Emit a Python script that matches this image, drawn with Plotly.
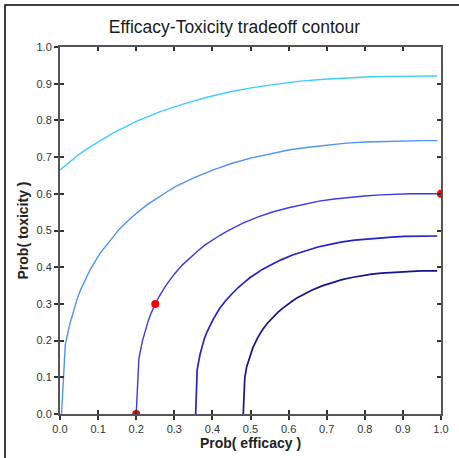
import plotly.graph_objects as go

# Contour curves (Prob efficacy -> Prob toxicity)
c1_x = [0.0, 0.018, 0.048, 0.079, 0.110, 0.140, 0.202, 0.263, 0.325, 0.386, 0.447, 0.509,
        0.570, 0.632, 0.693, 0.754, 0.816, 0.877, 0.939, 0.99]
c1_y = [0.665, 0.681, 0.706, 0.728, 0.748, 0.766, 0.798, 0.824, 0.845, 0.863, 0.878, 0.890,
        0.899, 0.907, 0.912, 0.916, 0.919, 0.920, 0.921, 0.921]

c2_x = [0.004, 0.014, 0.026, 0.036, 0.046, 0.056, 0.081, 0.106, 0.131, 0.155, 0.180, 0.205,
        0.230, 0.255, 0.280, 0.304, 0.354, 0.404, 0.454, 0.503, 0.553, 0.603, 0.652, 0.702,
        0.752, 0.801, 0.851, 0.901, 0.950, 0.99]
c2_y = [0.0, 0.190, 0.246, 0.285, 0.317, 0.343, 0.397, 0.439, 0.473, 0.503, 0.528, 0.551,
        0.571, 0.589, 0.605, 0.620, 0.645, 0.666, 0.684, 0.698, 0.710, 0.720, 0.727, 0.733,
        0.738, 0.741, 0.743, 0.744, 0.745, 0.745]

c3_x = [0.200, 0.207, 0.216, 0.224, 0.232, 0.240, 0.260, 0.280, 0.300, 0.320, 0.340, 0.360,
        0.380, 0.400, 0.420, 0.440, 0.480, 0.520, 0.560, 0.600, 0.640, 0.680, 0.720, 0.760,
        0.800, 0.840, 0.880, 0.920, 0.960, 0.99]
c3_y = [0.0, 0.150, 0.198, 0.230, 0.255, 0.277, 0.320, 0.353, 0.381, 0.405, 0.425, 0.443,
        0.460, 0.474, 0.487, 0.499, 0.520, 0.537, 0.551, 0.562, 0.572, 0.580, 0.586, 0.591,
        0.594, 0.597, 0.599, 0.600, 0.600, 0.600]

c4_x = [0.356, 0.360, 0.367, 0.373, 0.379, 0.386, 0.402, 0.418, 0.434, 0.451, 0.467, 0.483,
        0.499, 0.515, 0.531, 0.548, 0.580, 0.612, 0.644, 0.677, 0.709, 0.741, 0.774, 0.806,
        0.838, 0.871, 0.903, 0.935, 0.968, 0.99]
c4_y = [0.0, 0.120, 0.160, 0.186, 0.206, 0.224, 0.258, 0.286, 0.308, 0.327, 0.344, 0.358,
        0.372, 0.383, 0.394, 0.403, 0.420, 0.434, 0.445, 0.455, 0.462, 0.469, 0.474, 0.477,
        0.480, 0.482, 0.484, 0.485, 0.485, 0.485]

c5_x = [0.481, 0.485, 0.490, 0.496, 0.501, 0.506, 0.519, 0.532, 0.545, 0.558, 0.571, 0.584,
        0.597, 0.610, 0.623, 0.636, 0.662, 0.688, 0.714, 0.740, 0.766, 0.792, 0.818, 0.844,
        0.870, 0.896, 0.922, 0.948, 0.974, 0.99]
c5_y = [0.0, 0.099, 0.129, 0.149, 0.166, 0.180, 0.208, 0.230, 0.248, 0.263, 0.276, 0.288,
        0.299, 0.308, 0.317, 0.324, 0.338, 0.349, 0.358, 0.366, 0.372, 0.377, 0.381, 0.384,
        0.386, 0.388, 0.389, 0.390, 0.390, 0.390]

pts_x = [0.2, 0.25, 1.0]
pts_y = [0.0, 0.3, 0.6]

tick_vals = [0.0, 0.1, 0.2, 0.3, 0.4, 0.5, 0.6, 0.7, 0.8, 0.9, 1.0]
tick_text = ["0.0", "0.1", "0.2", "0.3", "0.4", "0.5", "0.6", "0.7", "0.8", "0.9", "1.0"]

curves = [
    (c1_x, c1_y, "#3fcdfb", 1.4),
    (c2_x, c2_y, "#4f92f5", 1.4),
    (c3_x, c3_y, "#3a3ae6", 1.4),
    (c4_x, c4_y, "#2323c8", 1.7),
    (c5_x, c5_y, "#14148f", 1.7),
]

fig = go.Figure()
for cx, cy, col, w in curves:
    fig.add_trace(go.Scatter(x=cx, y=cy, mode="lines",
                             line=dict(color=col, width=w), showlegend=False,
                             hoverinfo="skip"))
fig.add_trace(go.Scatter(x=pts_x, y=pts_y, mode="markers",
                         marker=dict(color="#ff0000", size=8), showlegend=False))
# dummy trace for the overlaid tick axes
fig.add_trace(go.Scatter(x=[], y=[], xaxis="x2", yaxis="y2", showlegend=False))

axis_line = "#555555"
font_family = "Liberation Sans, Arial, sans-serif"
tickfont = dict(family=font_family, size=11, color="#333333")

fig.update_layout(
    width=459, height=458,
    margin=dict(l=60, r=18, t=47, b=44),
    paper_bgcolor="white", plot_bgcolor="white",
    title=dict(text="Efficacy-Toxicity tradeoff contour", x=234.5 / 459, xanchor="center",
               y=1 - 27 / 458, yanchor="middle", xref="container", yref="container",
               font=dict(family=font_family, size=17.5, color="#1a1a1a")),
    xaxis=dict(range=[0, 1], tickvals=tick_vals, ticktext=tick_text, ticks="outside",
               ticklen=4, tickwidth=1.5, tickcolor="#333333", showline=True,
               linecolor=axis_line, linewidth=2, mirror=True, showgrid=False, zeroline=False,
               tickfont=tickfont, automargin=False,
               title=dict(text="<b>Prob( efficacy )</b>", standoff=3,
                          font=dict(family=font_family, size=14, color="#222222"))),
    yaxis=dict(range=[0, 1], tickvals=tick_vals, ticktext=tick_text, ticks="outside",
               ticklen=4, tickwidth=1.5, tickcolor="#333333", showline=True,
               linecolor=axis_line, linewidth=2, mirror=True, showgrid=False, zeroline=False,
               tickfont=tickfont, automargin=False,
               title=dict(text="<b>Prob( toxicity )</b>", standoff=5,
                          font=dict(family=font_family, size=14, color="#222222"))),
    xaxis2=dict(range=[0, 1], tickvals=tick_vals, overlaying="x", side="bottom",
                ticks="inside", ticklen=4, tickwidth=1.5, tickcolor="#333333",
                mirror="ticks", showticklabels=False, showline=False, showgrid=False,
                zeroline=False, automargin=False),
    yaxis2=dict(range=[0, 1], tickvals=tick_vals, overlaying="y", side="left",
                ticks="inside", ticklen=4, tickwidth=1.5, tickcolor="#333333",
                mirror="ticks", showticklabels=False, showline=False, showgrid=False,
                zeroline=False, automargin=False),
    shapes=[dict(type="rect", xref="paper", yref="paper",
                 x0=-55 / 381, x1=1 + 25 / 381, y0=-60 / 367, y1=1 + 42 / 367,
                 line=dict(color="black", width=1.5), fillcolor="rgba(0,0,0,0)", layer="below")],
)

fig.write_html("out.html")
